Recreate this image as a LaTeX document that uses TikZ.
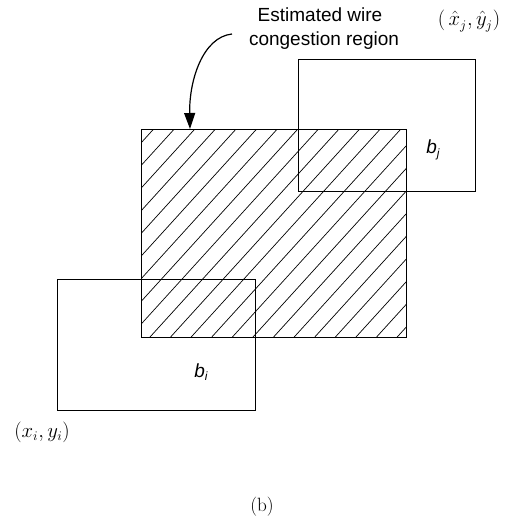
\documentclass[tikz,border=0pt]{standalone}
\usepackage{fontspec}
\setsansfont{Liberation Sans}
\usetikzlibrary{arrows.meta}
\begin{document}
\begin{tikzpicture}[x=1pt,y=-1pt,
  box/.style={draw=black,line width=1pt},
  hatch/.style={line width=0.7pt},
  lab/.style={font=\sffamily\fontsize{19}{23}\selectfont,inner sep=0pt,anchor=base},
  mathlab/.style={font=\fontsize{16}{19}\selectfont,inner sep=0pt},
  arr/.style={line width=1.2pt,-{Triangle[length=16pt,width=11pt]}}]
\useasboundingbox (0,0) rectangle (519,522);
% hatched region
\begin{scope}
\clip (141,129) rectangle (406,337);
\foreach \k in {-13,...,14} \draw[hatch] ({150+20.6*\k},337) -- ++(230,-253);
\end{scope}
\draw[box] (141,129) rectangle (406,337);
\coordinate (region) at (141,129);
% boxes
\draw[box] (57,279) rectangle (255,410);
\draw[box] (298,59) rectangle (475,191);
% labels
\node[lab] (lab1) at (320,21.7) {Estimated wire};
\node[lab] (lab2) at (324,45) {congestion region};
\coordinate (start) at (232,34);
\coordinate (tip) at (190,129);
\draw[arr] (start) .. controls (203,37) and (189,80) .. (tip);
\node[font=\sffamily\itshape\fontsize{19}{23}\selectfont,inner sep=0pt] (bi) at (201,372) {b\raisebox{-0.35ex}{\fontsize{12}{14}\selectfont i}};
\node[font=\sffamily\itshape\fontsize{19}{23}\selectfont,inner sep=0pt] (bj) at (433,150) {b\raisebox{-0.35ex}{\fontsize{12}{14}\selectfont j}};
\node[mathlab] (pj) at (469,21) {\scalebox{1.2}{$(\,\hat{x}_j,\hat{y}_j)$}};
\node[mathlab] (pi) at (42,432) {\scalebox{1.2}{$(x_i,y_i)$}};
\node[mathlab] (cap) at (262,507) {\scalebox{1.2}{(b)}};
\end{tikzpicture}
\end{document}
